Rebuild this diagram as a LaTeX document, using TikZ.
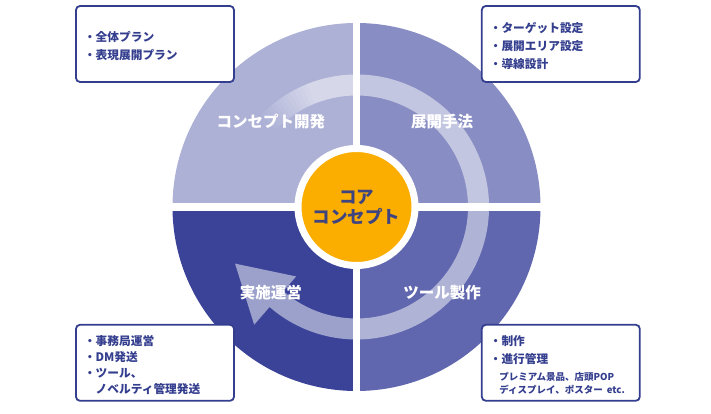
\documentclass[tikz,border=0pt]{standalone}
\usepackage{fontspec}
\setmainfont{Noto Sans CJK JP}
\usetikzlibrary{positioning}
\definecolor{quadTL}{HTML}{ADB1D6}
\definecolor{quadTR}{HTML}{888DC3}
\definecolor{quadBR}{HTML}{6067AE}
\definecolor{quadBL}{HTML}{3A4398}
\definecolor{coreorange}{HTML}{FBAE00}
\definecolor{navy}{HTML}{343E8E}
\definecolor{corenavy}{HTML}{3E4480}
\newcommand\outl[1]{\special{pdf:content 2 Tr 1.3 w 1 j 0.2 0.24 0.53 RG}#1\special{pdf:content 0 Tr}}
\newcommand\topgap{\rule{0pt}{14.5pt}}

\begin{document}
\begin{tikzpicture}[x=1pt,y=1pt,node distance=246pt,every node/.append style={align=center},info/.style={draw=navy, line width=1.8pt, rounded corners=4pt, fill=white, text=navy, font=\bfseries\fontsize{11.7}{17.7}\selectfont, text width=142pt, inner xsep=8pt, inner ysep=4pt, minimum height=76pt, align=left},quadlabel/.style={text=white, font=\bfseries\fontsize{15.5}{18}\selectfont},core/.style={circle, draw=white, line width=7pt, fill=coreorange, minimum size=117pt, text=corenavy, font=\bfseries\fontsize{17.5}{20}\selectfont},band/.style={fill=white, fill opacity=0.5}]
    \useasboundingbox (0,0) rectangle (711,414);
    \coordinate (C) at (356.5,207);
    \foreach \ang/\col in {0/quadTR,90/quadTL,180/quadBL,270/quadBR}
        \fill[\col] (C) -- ++(\ang:184) arc[start angle=\ang, delta angle=90, radius=184] -- cycle;
    \foreach \i [evaluate=\i as \op using 0.5*\i/13, evaluate=\i as \a using 138-2*\i, evaluate=\i as \b using 136-2*\i] in {1,...,12}
        \fill[white, fill opacity=\op] (C) ++(\a:132.5) arc[start angle=\a, end angle=\b, radius=132.5] -- ([shift={(\b:111.5)}]C) arc[start angle=\b, end angle=\a, radius=111.5] -- cycle;
    \fill[band] (C) ++(112:132.5) arc[start angle=112, end angle=-131, radius=132.5] -- ([shift={(-131:156)}]C) -- ([shift={(-155:134)}]C) -- ([shift={(-131:92)}]C) -- ([shift={(-131:111.5)}]C) arc[start angle=-131, end angle=112, radius=111.5] -- cycle;
    \draw[white, line width=7.5pt] ([yshift=-186pt]C) -- ([yshift=186pt]C);
    \draw[white, line width=7.5pt] ([xshift=-186pt]C) -- ([xshift=186pt]C);
    \node [core] (core) at (C) {コア\\コンセプト};
    \foreach \ang/\txt/\nm in {135/コンセプト開発/labTL,45/展開手法/labTR,225/実施運営/labBL,315/ツール製作/labBR}
        \node [quadlabel] (\nm) at ([shift={(\ang:121)}]C) {\outl{\txt}};
    \node [info] (box1) at (155,370) {\topgap・全体プラン\\・表現展開プラン};
    \node [info, right=of box1] (box2) {\topgap・ターゲット設定\\・展開エリア設定\\・導線設計};
    \node [info, below=241pt of box1, font=\bfseries\fontsize{11.7}{15.7}\selectfont] (box3) {\topgap・事務局運営\\・DM発送\\・ツール、\\\hspace*{1em}ノベルティ管理発送};
    \node [info, right=of box3] (box4) {\topgap・制作\\・進行管理\\{\fontsize{9.5}{13}\selectfont\hspace*{1em}プレミアム景品、店頭POP}\\[-5pt]{\fontsize{9.5}{13}\selectfont\hspace*{1em}ディスプレイ、ポスター etc.}};
\end{tikzpicture}
\end{document}
